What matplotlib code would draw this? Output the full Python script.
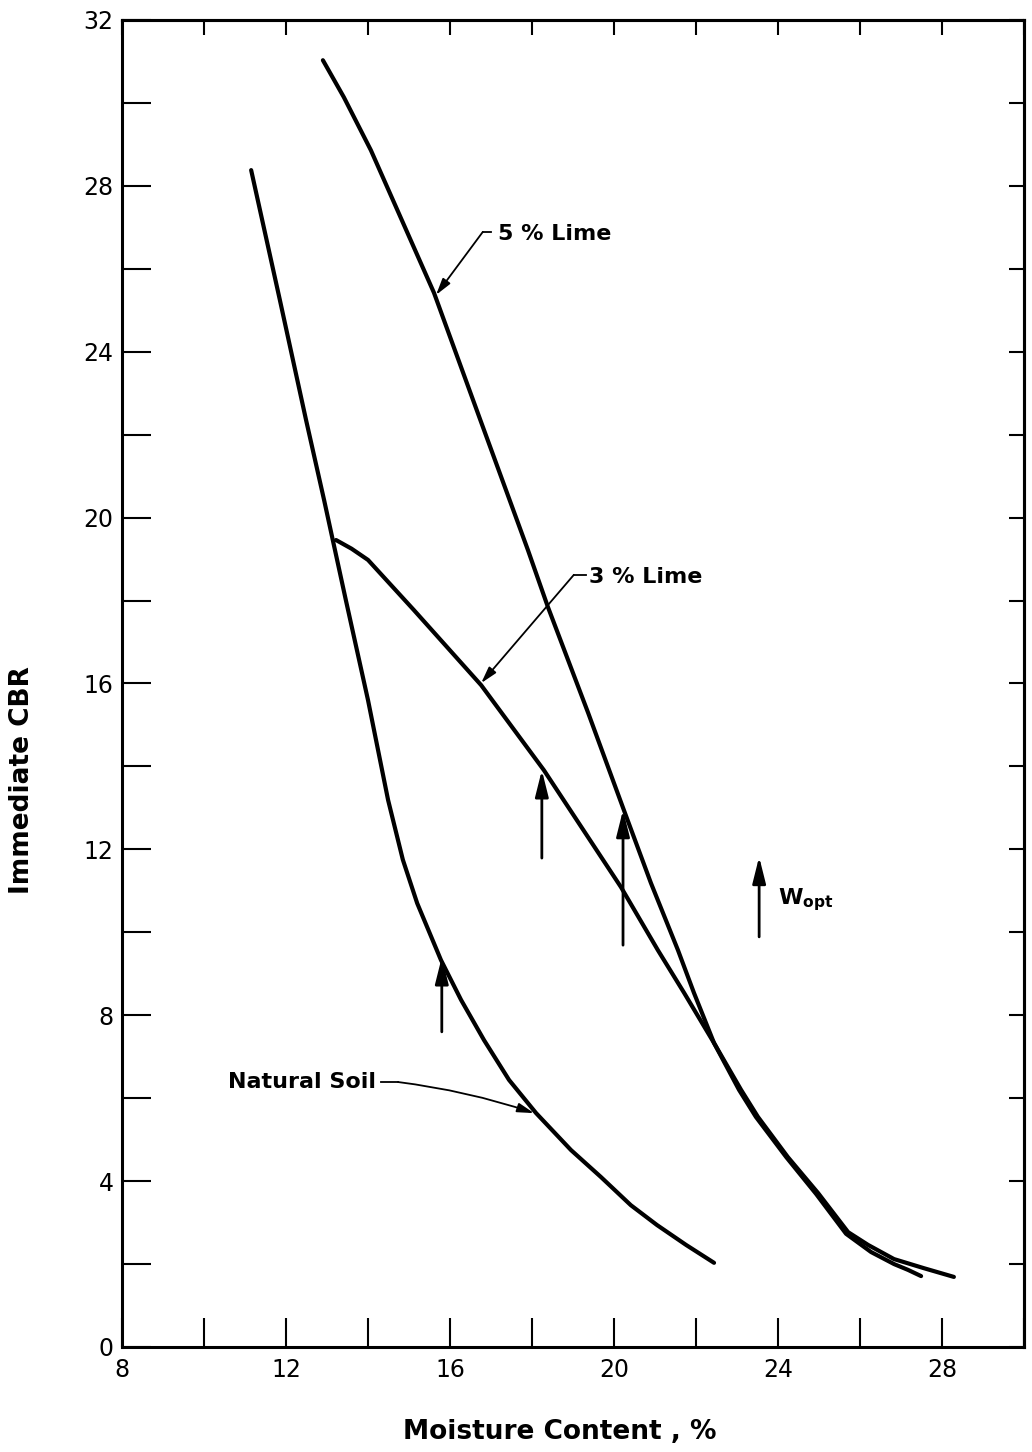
import matplotlib
matplotlib.use("Agg")
import matplotlib.pyplot as plt

# ---- data ----
natural_x = [11.15, 11.85, 12.49, 12.93, 13.46, 14.00, 14.49, 14.85, 15.20, 15.78, 16.27, 16.83,
             17.44, 18.10, 18.95, 19.68, 20.41, 21.05, 21.76, 22.44]
natural_y = [28.38, 25.25, 22.35, 20.42, 18.01, 15.60, 13.19, 11.75, 10.70, 9.33, 8.37, 7.40,
             6.44, 5.64, 4.75, 4.10, 3.42, 2.94, 2.46, 2.03]

lime3_x = [13.22, 13.60, 14.00, 15.12, 16.76, 18.29, 20.17, 21.07, 21.71, 22.44, 23.10, 23.51, 24.24,
           24.98, 25.71, 26.20, 26.83, 27.56, 28.29]
lime3_y = [19.46, 19.25, 18.98, 17.77, 15.96, 13.91, 11.09, 9.57, 8.54, 7.33, 6.20, 5.55, 4.58,
           3.71, 2.77, 2.46, 2.12, 1.90, 1.69]

lime5_x = [12.90, 13.41, 14.07, 15.61, 16.76, 17.90, 18.39, 19.37, 20.24, 20.90, 21.56, 21.95,
           22.44, 23.05, 23.46, 24.20, 24.93, 25.66, 26.27, 26.83, 27.17, 27.49]
lime5_y = [31.03, 30.14, 28.86, 25.42, 22.30, 19.22, 17.84, 15.29, 12.95, 11.19, 9.57, 8.54,
           7.33, 6.20, 5.55, 4.58, 3.69, 2.73, 2.29, 2.00, 1.86, 1.71]

# optimum moisture content markers (x, CBR at tip, tail CBR)
wopt_x = [15.80, 18.24, 20.22]
wopt_tip = [9.40, 13.91, 12.95]
wopt_tail = [7.60, 11.79, 9.69]

xticks = list(range(8, 31, 2))
yticks = list(range(0, 33, 2))
xticklabels = [str(v) if v % 4 == 0 and v <= 28 else "" for v in xticks]
yticklabels = [str(v) if v % 4 == 0 else "" for v in yticks]

W, H = 1032, 1452
fig = plt.figure(figsize=(W / 100, H / 100), dpi=100)
L, R, T, B = 122, 1024, 20, 1347
ax = fig.add_axes([L / W, 1 - B / H, (R - L) / W, (B - T) / H])
ax.set_xlim(8, 30)
ax.set_ylim(0, 32)

for s in ax.spines.values():
    s.set_linewidth(2.2)

line_kw = dict(color="black", lw=3.0, solid_capstyle="round", solid_joinstyle="round")
ax.plot(natural_x, natural_y, **line_kw)
ax.plot(lime3_x, lime3_y, **line_kw)
ax.plot(lime5_x, lime5_y, **line_kw)

# ticks
ax.set_xticks(xticks)
ax.set_xticklabels(xticklabels)
ax.set_yticks(yticks)
ax.set_yticklabels(yticklabels)
ax.tick_params(axis="both", direction="in", length=21, width=1.5, labelsize=17, pad=6)
ax.tick_params(axis="x", pad=8)

top = ax.secondary_xaxis("top")
top.set_xticks(xticks)
top.set_xticklabels([])
top.tick_params(direction="in", length=11, width=1.5)
top.spines["top"].set_linewidth(2.2)
right = ax.secondary_yaxis("right")
right.set_yticks(yticks)
right.set_yticklabels([])
right.tick_params(direction="in", length=11, width=1.5)
right.spines["right"].set_linewidth(2.2)

# W_opt arrows
big_head = dict(arrowstyle="-|>,head_length=1.6,head_width=0.4", lw=2.0, color="black",
                shrinkA=0, shrinkB=0, mutation_scale=10)
for xv, yt, y0 in zip(wopt_x, wopt_tip, wopt_tail):
    ax.annotate("", xy=(xv, yt), xytext=(xv, y0), arrowprops=big_head)
# legend arrow
ax.annotate("", xy=(23.54, 11.82), xytext=(23.54, 9.89), arrowprops=big_head)
ax.text(24.0, 10.78, r"$\mathbf{W_{opt}}$", fontsize=16, ha="left", va="center")

lab_kw = dict(fontsize=16, fontweight="bold", color="black")
leader = dict(color="black", lw=1.3)
head = dict(arrowstyle="-|>,head_length=1.0,head_width=0.28", lw=1.3, color="black",
            shrinkA=0, shrinkB=0, mutation_scale=10)

# 5 % Lime label
ax.text(17.17, 26.85, "5 % Lime", ha="left", va="center", **lab_kw)
ax.plot([17.0, 16.80], [26.89, 26.89], **leader)
ax.annotate("", xy=(15.66, 25.37), xytext=(16.80, 26.89), arrowprops=head)

# 3 % Lime label
ax.text(19.39, 18.56, "3 % Lime", ha="left", va="center", **lab_kw)
ax.plot([19.32, 19.02], [18.62, 18.62], **leader)
ax.annotate("", xy=(16.76, 16.01), xytext=(19.02, 18.62), arrowprops=head)

# Natural Soil label
ax.text(14.20, 6.39, "Natural Soil", ha="right", va="center", **lab_kw)
ax.plot([14.32, 14.73], [6.39, 6.39], **leader)
ax.annotate("", xy=(18.05, 5.64), xytext=(14.73, 6.39),
            arrowprops=dict(head, connectionstyle="arc3,rad=-0.05"))

fig.text(560 / W, 1 - 1432 / H, "Moisture Content , %", ha="center", va="center",
         fontsize=19, fontweight="bold")
fig.text(22 / W, 1 - 780 / H, "Immediate CBR", ha="center", va="center",
         rotation=90, fontsize=19, fontweight="bold")

fig.savefig("out.png", dpi=100)
